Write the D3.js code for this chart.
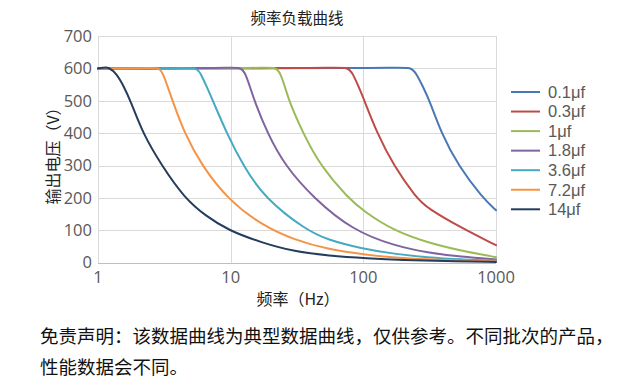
<!DOCTYPE html>
<html>
<head>
<meta charset="utf-8">
<script src="https://cdn.jsdelivr.net/npm/d3@7"></script>
<style>
  html, body { margin: 0; padding: 0; background: #fff; }
  svg { display: block; }
</style>
</head>
<body>
<svg id="chart" width="637" height="387"></svg>
<script>
// ---------- data ----------
const seriesNames = ["0.1μf", "0.3μf", "1μf", "1.8μf", "3.6μf", "7.2μf", "14μf"];

// [frequency Hz, output voltage V]
const s0_1 = [[1,600],[175,600],[229,605],[251,584],[282,543],[316,500],[387,400],[518,300],[794,200],[1000,162]];
const s0_3 = [[1,600],[58,600],[76.7,605],[83.2,584],[92.3,543],[102,500],[127,400],[169,300],[251,200],[306,168],[546,108],[1000,54]];
const s1   = [[1,600],[17,600],[22.1,605],[23.7,584],[25.7,543],[27.5,500],[35.1,400],[47.3,300],[76.8,200],[100,160],[167,100],[306,62],[546,37],[1000,17]];
const s1_8 = [[1,600],[9.2,600],[12.0,605],[12.9,584],[14.0,543],[15.1,500],[18.9,400],[25.6,300],[42,200],[83,100],[172,52],[306,31],[546,18],[1000,10]];
const s3_6 = [[1,600],[4.2,600],[5.5,604],[5.96,584],[6.6,543],[7.35,500],[9.33,400],[12.4,300],[18.0,200],[37.2,100],[54.3,70],[96,44],[172,27],[306,16],[546,10],[1000,6]];
const s7_2 = [[1,600],[2.2,600],[2.88,604],[3.09,584],[3.35,543],[3.65,500],[4.48,400],[6.05,300],[9.6,194],[17.1,116],[30.4,70],[54.3,41],[108,24],[172,15.5],[306,10],[546,6.5],[1000,4]];
const s14  = [[1,600],[1.1,602],[1.2,604],[1.38,584],[1.57,543],[1.76,500],[2.17,400],[3.02,300],[4.48,200],[6.5,144],[9.6,100],[17.1,62],[30.4,34],[54.3,22],[108,13.5],[200,8],[400,5],[1000,2.5]];

const seriesData = [s0_1, s0_3, s1, s1_8, s3_6, s7_2, s14];

const xTicks = [1, 10, 100, 1000];
const yTicks = [0, 100, 200, 300, 400, 500, 600, 700];

const titleText = "频率负载曲线";
const xLabel = "频率（Hz）";
const yLabel = "输出电压（V）";
const note1 = "免责声明：该数据曲线为典型数据曲线，仅供参考。不同批次的产品，";
const note2 = "性能数据会不同。";

// ---------- drawing ----------
const colors = ["#4a78b6", "#be4b48", "#9bbb59", "#7f64a0", "#46a9c2", "#f59446", "#243d5e"];
const cjk = "'Noto Sans CJK SC', 'Noto Sans', sans-serif";
const num = "'Open Sans', 'Noto Sans', sans-serif";
const legFont = "'Liberation Sans', Arial, sans-serif";

const svg = d3.select("#chart");
const x = d3.scaleLog().domain([1, 1000]).range([98, 496]);
const y = d3.scaleLinear().domain([0, 700]).range([262.7, 36]);

// grid
const g = svg.append("g");
g.selectAll("line.h").data(yTicks).join("line")
  .attr("x1", x(1)).attr("x2", x(1000))
  .attr("y1", d => Math.round(y(d)) + 0.5).attr("y2", d => Math.round(y(d)) + 0.5)
  .attr("stroke", d => d === 0 ? "#bfbfbf" : "#d9d9d9").attr("stroke-width", 1);
g.selectAll("line.v").data(xTicks).join("line")
  .attr("x1", d => Math.round(x(d)) + 0.5).attr("x2", d => Math.round(x(d)) + 0.5)
  .attr("y1", y(700)).attr("y2", y(0))
  .attr("stroke", "#d9d9d9").attr("stroke-width", 1);

// y tick labels
svg.append("g").selectAll("text").data(yTicks).join("text")
  .attr("x", 92).attr("y", d => y(d)).attr("dy", "0.35em")
  .attr("text-anchor", "end")
  .attr("font-family", num).attr("font-size", 16.5).attr("fill", "#595959")
  .text(d => d);

// x tick labels
svg.append("g").selectAll("text").data(xTicks).join("text")
  .attr("x", d => x(d)).attr("y", 283)
  .attr("text-anchor", "middle")
  .attr("font-family", num).attr("font-size", 16.5).attr("fill", "#595959")
  .text(d => d);

// lines
const line = d3.line().x(d => x(d[0])).y(d => y(d[1])).curve(d3.curveBasis);
svg.append("g").selectAll("path").data(seriesData).join("path")
  .attr("d", line).attr("fill", "none")
  .attr("stroke", (d, i) => colors[i]).attr("stroke-width", 2)
  .attr("stroke-linejoin", "round").attr("stroke-linecap", "round");

// title
svg.append("text").attr("x", 297).attr("y", 24).attr("text-anchor", "middle")
  .attr("font-family", cjk).attr("font-size", 15.5).attr("fill", "#222")
  .text(titleText);

// axis titles
svg.append("text").attr("x", 298).attr("y", 305).attr("text-anchor", "middle")
  .attr("font-family", cjk).attr("font-size", 16).attr("fill", "#222")
  .text(xLabel);
svg.append("text").attr("transform", "translate(59,152) rotate(-90)")
  .attr("text-anchor", "middle")
  .attr("font-family", cjk).attr("font-size", 16).attr("fill", "#222")
  .text(yLabel);

// legend
const leg = svg.append("g").selectAll("g").data(seriesNames).join("g")
  .attr("transform", (d, i) => `translate(0, ${92 + i * 19.55})`);
leg.append("line").attr("x1", 511).attr("x2", 540).attr("y1", 0).attr("y2", 0)
  .attr("stroke", (d, i) => colors[i]).attr("stroke-width", 2);
leg.append("text").attr("x", 548).attr("y", 0).attr("dy", "0.35em")
  .attr("font-family", legFont).attr("font-size", 16.5).attr("fill", "#595959")
  .text(d => d);

// footnote
svg.append("text").attr("x", 40).attr("y", 343)
  .attr("font-family", cjk).attr("font-size", 18.5).attr("fill", "#111")
  .text(note1);
svg.append("text").attr("x", 40).attr("y", 374)
  .attr("font-family", cjk).attr("font-size", 18.5).attr("fill", "#111")
  .text(note2);
</script>
</body>
</html>
